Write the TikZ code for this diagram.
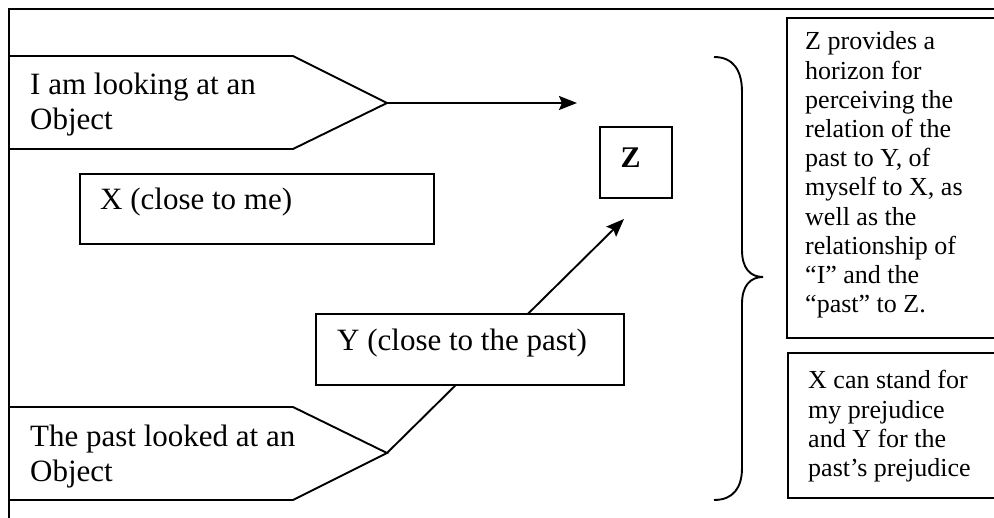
\documentclass[tikz,border=0pt]{standalone}
\usepackage{fontspec}
\setmainfont{Liberation Serif}
\usetikzlibrary{arrows.meta}
\begin{document}
\begin{tikzpicture}[x=1pt,y=-1pt,
  frameline/.style={line width=2.4pt, line cap=rect},
  outline/.style={line width=1.9pt, line join=miter},
  box/.style={draw, line width=1.9pt, fill=white, inner sep=0pt, anchor=north west},
  conn/.style={line width=1.9pt, -{Stealth[length=18pt,width=14pt,inset=3pt]}},
  bigtext/.style={font=\fontsize{31}{35}\selectfont, inner sep=0pt, anchor=base west},
  smalltext/.style={font=\fontsize{26}{29.2}\selectfont, inner sep=0pt, anchor=base west}]
\useasboundingbox (0,0) rectangle (994,518);

% outer frame (top and left edges)
\draw[frameline] (9,518) -- (9,9) -- (994,9);

% upper pointer shape and its arrow
\coordinate (tipA) at (387,103);
\coordinate (endA) at (577,103);
\draw[outline] (9,56) -- (293,56) -- (tipA) -- (293,149) -- (9,149);
\node[bigtext] (looking) at (30,95) {\vtop{\hbox{I am looking at an}\hbox{Object}}};
\draw[conn] (tipA) -- (endA);

% lower pointer shape and its arrow (passes behind the Y box)
\coordinate (tipB) at (387,453);
\coordinate (endB) at (624,219);
\draw[outline] (9,407) -- (293,407) -- (tipB) -- (293,500) -- (9,500);
\node[bigtext] (pastlook) at (30,447) {\vtop{\hbox{The past looked at an}\hbox{Object}}};
\draw[conn] (tipB) -- (endB);

% X box
\node[box, minimum width=354, minimum height=70] (xbox) at (79,173) {};
\node[bigtext] (xtext) at (100,210) {X (close to me)};

% Y box
\node[box, minimum width=308, minimum height=71] (ybox) at (315,313) {};
\node[bigtext] (ytext) at (337,351) {Y (close to the past)};

% Z box
\node[box, minimum width=72, minimum height=71] (zbox) at (599,126) {};
\node[font=\fontsize{30}{34}\selectfont\bfseries, inner sep=0pt, anchor=base]
  (ztext) at (630.5,168) {Z};

% curly brace
\draw[line width=1.9pt]
  (714,57) .. controls (733,57) and (742,70) .. (742,92)
  -- (742,250) .. controls (742,268) and (750,277) .. (763,277)
  .. controls (750,277) and (742,286) .. (742,304)
  -- (742,468) .. controls (742,488) and (733,500) .. (714,500);

% explanation boxes on the right
\node[box, minimum width=230, minimum height=320] (zexpl) at (786,17) {};
\node[smalltext] (zexpltext) at (805,50)
  {\vtop{\hbox{Z provides a}\hbox{horizon for}\hbox{perceiving the}\hbox{relation of the}%
   \hbox{past to Y, of}\hbox{myself to X, as}\hbox{well as the}\hbox{relationship of}%
   \hbox{“I” and the}\hbox{“past” to Z.}}};
\node[box, minimum width=230, minimum height=145] (xyexpl) at (787,352) {};
\node[smalltext] (xyexpltext) at (808,389)
  {\vtop{\hbox{X can stand for}\hbox{my prejudice}\hbox{and Y for the}\hbox{past’s prejudice}}};
\end{tikzpicture}
\end{document}
